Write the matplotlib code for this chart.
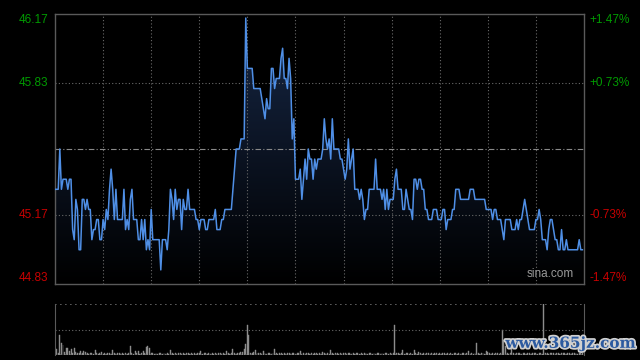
import numpy as np
import matplotlib.pyplot as plt
from matplotlib.colors import LinearSegmentedColormap
import matplotlib.patheffects as pe

# previous close and axis range
prev_close = 45.50
price_low = 44.83
price_high = 46.17

# left axis labels and right axis percent labels
price_ticks = [46.17, 45.83, 45.17, 44.83]
price_labels = ["46.17", "45.83", "45.17", "44.83"]
pct_labels = ["+1.47%", "+0.73%", "-0.73%", "-1.47%"]

# one price per minute (9:30 - 16:00)
prices = [
    45.30, 45.30, 45.30, 45.50, 45.30, 45.35, 45.35, 45.35, 45.30, 45.35,
    45.35, 45.10, 45.05, 45.25, 45.20, 45.00, 45.00, 45.25, 45.25, 45.20,
    45.25, 45.20, 45.20, 45.05, 45.10, 45.10, 45.15, 45.15, 45.05, 45.05,
    45.15, 45.10, 45.20, 45.15, 45.30, 45.40, 45.30, 45.15, 45.30, 45.15,
    45.15, 45.15, 45.15, 45.30, 45.10, 45.15, 45.10, 45.25, 45.30, 45.15,
    45.15, 45.15, 45.05, 45.05, 45.15, 45.05, 45.15, 45.00, 45.05, 45.00,
    45.20, 45.05, 45.05, 45.05, 45.05, 45.05, 44.90, 45.05, 45.05, 45.05,
    45.00, 45.10, 45.30, 45.25, 45.15, 45.30, 45.20, 45.25, 45.25, 45.10,
    45.25, 45.20, 45.20, 45.30, 45.20, 45.20, 45.20, 45.20, 45.15, 45.15,
    45.10, 45.15, 45.15, 45.15, 45.10, 45.10, 45.15, 45.15, 45.15, 45.15,
    45.20, 45.10, 45.10, 45.10, 45.15, 45.15, 45.20, 45.20, 45.20, 45.20,
    45.20, 45.30, 45.40, 45.50, 45.50, 45.50, 45.55, 45.55, 45.55, 46.15,
    45.90, 45.90, 45.90, 45.90, 45.80, 45.80, 45.80, 45.80, 45.80, 45.75,
    45.70, 45.65, 45.75, 45.70, 45.70, 45.90, 45.90, 45.80, 45.85, 45.85,
    45.85, 45.95, 46.00, 45.85, 45.85, 45.80, 45.95, 45.85, 45.55, 45.65,
    45.35, 45.35, 45.35, 45.40, 45.25, 45.35, 45.45, 45.35, 45.50, 45.45,
    45.45, 45.35, 45.45, 45.40, 45.45, 45.45, 45.45, 45.50, 45.65, 45.55,
    45.50, 45.55, 45.45, 45.65, 45.50, 45.50, 45.50, 45.50, 45.45, 45.45,
    45.40, 45.35, 45.40, 45.55, 45.40, 45.45, 45.50, 45.30, 45.30, 45.30,
    45.25, 45.30, 45.25, 45.15, 45.20, 45.20, 45.30, 45.30, 45.30, 45.30,
    45.45, 45.30, 45.30, 45.30, 45.25, 45.30, 45.20, 45.30, 45.20, 45.25,
    45.25, 45.25, 45.35, 45.40, 45.30, 45.30, 45.30, 45.20, 45.20, 45.30,
    45.25, 45.20, 45.20, 45.15, 45.35, 45.35, 45.30, 45.35, 45.35, 45.30,
    45.30, 45.20, 45.20, 45.15, 45.15, 45.15, 45.20, 45.20, 45.20, 45.15,
    45.15, 45.15, 45.20, 45.20, 45.10, 45.15, 45.15, 45.15, 45.20, 45.20,
    45.30, 45.30, 45.30, 45.25, 45.25, 45.25, 45.25, 45.25, 45.25, 45.30,
    45.30, 45.30, 45.25, 45.25, 45.25, 45.25, 45.25, 45.25, 45.25, 45.20,
    45.20, 45.20, 45.20, 45.15, 45.20, 45.20, 45.15, 45.15, 45.15, 45.10,
    45.05, 45.15, 45.15, 45.15, 45.15, 45.10, 45.10, 45.10, 45.15, 45.10,
    45.15, 45.15, 45.20, 45.25, 45.20, 45.15, 45.10, 45.10, 45.10, 45.10,
    45.15, 45.15, 45.20, 45.15, 45.05, 45.05, 45.05, 45.00, 45.10, 45.15,
    45.15, 45.10, 45.05, 45.05, 45.00, 45.00, 45.10, 45.00, 45.00, 45.05,
    45.00, 45.00, 45.00, 45.00, 45.00, 45.00, 45.00, 45.05, 45.00, 45.00,
]

# volume per minute (relative units, 100 = panel top)
volumes = [
    23, 12, 4, 39, 23, 20, 5, 13, 13, 8,
    11, 3, 13, 5, 3, 4, 8, 3, 8, 6,
    3, 2, 4, 3, 2, 10, 3, 2, 3, 5,
    2, 3, 2, 4, 3, 2, 10, 3, 2, 3,
    4, 2, 3, 2, 3, 2, 4, 18, 3, 2,
    8, 3, 8, 2, 3, 8, 3, 16, 18, 13,
    4, 3, 2, 3, 2, 4, 3, 2, 3, 2,
    3, 2, 10, 3, 2, 3, 2, 4, 3, 2,
    3, 2, 4, 3, 2, 3, 2, 3, 2, 4,
    3, 8, 2, 3, 4, 2, 3, 2, 3, 2,
    3, 2, 4, 3, 2, 3, 2, 7, 3, 2,
    4, 11, 3, 2, 4, 3, 5, 6, 11, 22,
    59, 39, 4, 3, 5, 10, 3, 4, 3, 2,
    8, 3, 2, 4, 3, 2, 3, 12, 3, 2,
    3, 4, 2, 3, 2, 4, 3, 2, 3, 4,
    2, 3, 4, 8, 2, 3, 2, 4, 3, 2,
    3, 2, 4, 3, 2, 3, 2, 5, 3, 2,
    3, 2, 10, 3, 2, 4, 3, 2, 3, 2,
    4, 3, 2, 3, 4, 2, 3, 2, 4, 3,
    2, 3, 2, 4, 3, 2, 3, 4, 2, 3,
    2, 3, 4, 2, 3, 2, 3, 4, 2, 3,
    2, 3, 59, 4, 3, 2, 3, 10, 2, 3,
    4, 2, 3, 2, 10, 3, 2, 6, 3, 2,
    3, 2, 4, 3, 2, 3, 2, 3, 4, 2,
    3, 2, 3, 4, 2, 3, 2, 3, 2, 4,
    3, 2, 3, 2, 4, 3, 2, 3, 8, 2,
    3, 2, 3, 23, 3, 2, 4, 3, 2, 8,
    6, 3, 2, 3, 2, 3, 4, 2, 3, 49,
    29, 18, 3, 2, 4, 29, 3, 2, 3, 4,
    3, 2, 4, 3, 2, 3, 4, 2, 3, 4,
    3, 2, 4, 3, 2, 100, 3, 4, 2, 3,
    4, 3, 2, 3, 4, 2, 3, 4, 3, 2,
    3, 4, 2, 3, 4, 3, 2, 3, 4, 3,
]

n_minutes = 330
minutes = np.arange(len(prices))

green = "#009a00"
red = "#c80000"
frame = "#5a5a5a"
grid = "#6a6a6a"

fig = plt.figure(figsize=(6.4, 3.6), dpi=100, facecolor="black")
ax = fig.add_axes([55 / 640, 1 - 284 / 360, 529 / 640, 270 / 360], facecolor="black")
axv = fig.add_axes([55 / 640, 1 - 355 / 360, 529 / 640, 51 / 360], facecolor="black")

# price panel
ax.set_xlim(0, n_minutes)
ax.set_ylim(price_low, price_high)

# gradient fill under the price line
cmap = LinearSegmentedColormap.from_list("fade", ["#000000", "#172847"])
grad = np.linspace(0, 1, 256).reshape(-1, 1)
img = ax.imshow(grad, cmap=cmap, origin="lower", aspect="auto",
                extent=[0, n_minutes, price_low, price_high], zorder=1)
poly = ax.fill_between(minutes, prices, price_low, color="none", lw=0)
clip = poly.get_paths()[0]
img.set_clip_path(clip, transform=ax.transData)

ax.plot(minutes, prices, color="#4f8fe6", lw=1.1, zorder=3)

# grid lines
for m in range(30, n_minutes, 30):
    ax.axvline(m, color=grid, lw=0.8, ls=(0, (1, 2)), zorder=2)
for p in [45.83, 45.17]:
    ax.axhline(p, color=grid, lw=0.8, ls=(0, (1, 2)), zorder=2)
ax.axhline(prev_close, color="#8a8a8a", lw=0.8, ls=(0, (5, 2, 1, 2)), zorder=2)

ax.set_xticks([])
ax.set_yticks([])
for s in ax.spines.values():
    s.set_color(frame)
    s.set_linewidth(1)

# axis labels as text, like the original
for i, p in enumerate(price_ticks):
    c = green if p > prev_close else red
    y = p
    if i == 0:
        y = p - 0.03
    if i == len(price_ticks) - 1:
        y = p + 0.03
    ax.text(-0.012, y, price_labels[i], color=c, fontsize=8.5, family="Liberation Sans",
            ha="right", va="center", transform=ax.get_yaxis_transform())
    ax.text(1.01, y, pct_labels[i], color=c, fontsize=8.5, family="Liberation Sans",
            ha="left", va="center", transform=ax.get_yaxis_transform())

ax.text(0.98, 0.015, "sina.com", color="#9a9a9a", fontsize=8.5, family="Liberation Sans",
        ha="right", va="bottom", transform=ax.transAxes)

# volume panel
axv.bar(np.arange(len(volumes)), volumes, width=0.6, color="#8c8c8c",
        edgecolor="#8c8c8c", lw=0.3, zorder=2)
axv.set_xlim(0, n_minutes)
axv.set_ylim(0, 100)
axv.axhline(50, color=grid, lw=0.8, ls=(0, (1, 2)))
axv.axhline(100, color=grid, lw=1.2, ls=(0, (1, 2)))
axv.axhline(0, color=grid, lw=1.2, ls=(0, (1, 2)))
axv.set_xticks([])
axv.set_yticks([])
axv.spines["top"].set_visible(False)
axv.spines["bottom"].set_visible(False)
axv.spines["left"].set_color(frame)
axv.spines["right"].set_color(frame)

# watermark
fig.text(0.993, 0.045, "www.365jz.com", color="#2c5aa0", fontsize=11, fontweight="bold",
         family="DejaVu Serif", ha="right", va="center", zorder=5,
         path_effects=[pe.withStroke(linewidth=2.5, foreground="#d0d0d0")])

fig.savefig("out.png", dpi=100, facecolor="black")
